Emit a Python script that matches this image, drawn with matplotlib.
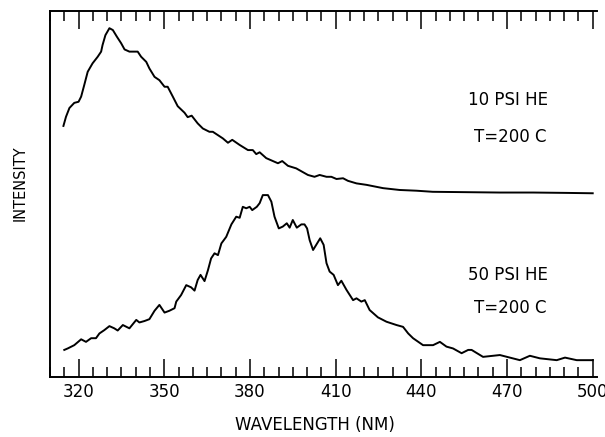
"""Emission spectra at two helium pressures, T=200 C."""
import matplotlib
matplotlib.use("Agg")
import matplotlib.pyplot as plt
from matplotlib.ticker import MultipleLocator

# 10 PSI HE spectrum (wavelength in nm, intensity in arbitrary units)
wl_10psi = [314.7, 315.6, 316.8, 318.5, 320.0, 320.9, 322.0, 323.2, 324.9,
            326.7, 327.9, 328.4, 329.4, 330.8, 332.0, 333.4, 334.9, 336.1,
            337.8, 340.7, 341.9, 343.7, 344.8, 346.6, 348.3, 350.1, 351.2,
            353.0, 354.7, 357.1, 358.2, 359.6, 361.7, 363.5, 365.8, 367.0,
            370.5, 372.3, 373.8, 376.4, 379.3, 381.0, 382.2, 383.4, 385.7,
            389.8, 391.3, 393.3, 396.2, 400.3, 402.6, 404.4, 406.8, 408.5,
            410.3, 412.6, 414.3, 417.3, 420.8, 426.6, 432.4, 438.3, 444.0,
            455.8, 467.5, 479.1, 490.9, 500.0]
int_10psi = [68.6, 71.1, 73.5, 74.9, 75.2, 76.6, 79.8, 83.4, 85.7,
             87.5, 88.9, 90.7, 93.4, 95.3, 94.8, 93.0, 91.2, 89.5,
             88.9, 88.9, 87.5, 86.1, 84.3, 82.0, 81.1, 79.3, 79.3,
             76.6, 74.0, 72.2, 71.0, 71.4, 69.3, 67.9, 67.0, 67.0,
             65.2, 64.0, 64.8, 63.4, 62.0, 62.0, 60.9, 61.4, 59.8,
             58.4, 59.0, 57.7, 57.0, 55.2, 54.7, 55.2, 54.7, 54.7,
             54.1, 54.3, 53.6, 52.9, 52.5, 51.6, 51.1, 50.9, 50.6,
             50.5, 50.4, 50.4, 50.3, 50.2]

# 50 PSI HE spectrum
wl_50psi = [315.0, 316.2, 318.5, 320.9, 322.6, 324.4, 326.1, 327.3, 329.0,
            330.8, 332.5, 333.7, 335.5, 337.8, 340.2, 341.3, 343.1, 344.8,
            346.6, 348.3, 350.1, 351.8, 353.6, 354.2, 355.9, 357.7, 359.4,
            360.6, 361.7, 362.7, 364.1, 365.3, 366.4, 367.6, 368.8, 370.0,
            371.7, 373.5, 375.2, 376.4, 377.5, 378.7, 379.9, 380.8, 382.4,
            383.4, 384.5, 386.3, 387.5, 388.6, 390.1, 391.5, 392.9, 393.9,
            395.0, 396.4, 398.0, 399.1, 400.0, 400.9, 402.1, 403.2, 404.6,
            405.8, 406.8, 407.9, 409.3, 410.8, 412.0, 413.8, 416.1, 417.3,
            419.0, 420.2, 421.9, 424.8, 427.8, 431.3, 433.6, 435.4, 437.1,
            440.6, 444.1, 446.5, 448.8, 451.1, 454.1, 456.4, 457.6, 461.6,
            467.5, 474.5, 478.0, 481.5, 487.4, 490.3, 494.4, 500.0]
int_50psi = [7.4, 7.8, 8.7, 10.3, 9.6, 10.6, 10.6, 11.9, 12.8,
             13.9, 13.3, 12.7, 14.2, 13.3, 15.6, 14.9, 15.3, 15.8,
             18.1, 19.7, 17.6, 18.1, 18.8, 20.6, 22.4, 25.1, 24.5,
             23.6, 26.5, 27.9, 26.2, 29.2, 32.4, 33.8, 33.3, 36.5,
             38.3, 41.7, 43.8, 43.5, 46.5, 46.1, 46.5, 45.6, 46.5,
             47.5, 49.7, 49.7, 47.9, 43.8, 40.6, 41.1, 42.0, 40.8,
             42.9, 40.8, 41.7, 41.7, 40.6, 37.4, 34.7, 36.1, 37.9,
             36.1, 31.1, 28.8, 27.9, 25.1, 26.3, 23.8, 21.0, 21.5,
             20.6, 21.0, 18.3, 16.3, 15.1, 14.2, 13.7, 11.9, 10.6,
             8.7, 8.7, 9.6, 8.3, 7.8, 6.5, 7.4, 7.4, 5.5,
             6.0, 4.6, 5.8, 5.1, 4.6, 5.3, 4.6, 4.6]

plt.rcParams['font.family'] = ['DejaVu Sans']

fig = plt.figure(figsize=(6.05, 4.37), dpi=100)
ax = fig.add_axes([50 / 605, 1 - 377 / 437, 547 / 605, 366 / 437])

ax.plot(wl_10psi, int_10psi, color='black', lw=1.4)
ax.plot(wl_50psi, int_50psi, color='black', lw=1.4)

ax.set_xlim(310, 501.5)
ax.set_ylim(0, 100)

ax.spines['right'].set_visible(False)
for side in ('left', 'bottom', 'top'):
    ax.spines[side].set_linewidth(1.4)

ax.xaxis.set_major_locator(MultipleLocator(30))
ax.xaxis.set_minor_locator(MultipleLocator(5))
ax.set_xticks(range(320, 501, 30))
ax.tick_params(axis='x', which='both', direction='in', top=True,
               bottom=True, labelsize=12, pad=4, width=1.1)
ax.tick_params(axis='x', which='major', length=13)
ax.tick_params(axis='x', which='minor', length=7)
ax.set_yticks([])

ax.text(470.3, 75.7, '10 PSI HE', ha='center', va='center', fontsize=12)
ax.text(471, 65.6, 'T=200 C', ha='center', va='center', fontsize=12)
ax.text(470.3, 27.9, '50 PSI HE', ha='center', va='center', fontsize=12)
ax.text(471, 18.9, 'T=200 C', ha='center', va='center', fontsize=12)

fig.text(315 / 605, 1 - 425 / 437, 'WAVELENGTH (NM)', ha='center',
         va='center', fontsize=12)
fig.text(20 / 605, 1 - 183 / 437, 'INTENSITY', ha='center', va='center',
         rotation=90, fontsize=10.5)

fig.savefig('out.png', dpi=100)
